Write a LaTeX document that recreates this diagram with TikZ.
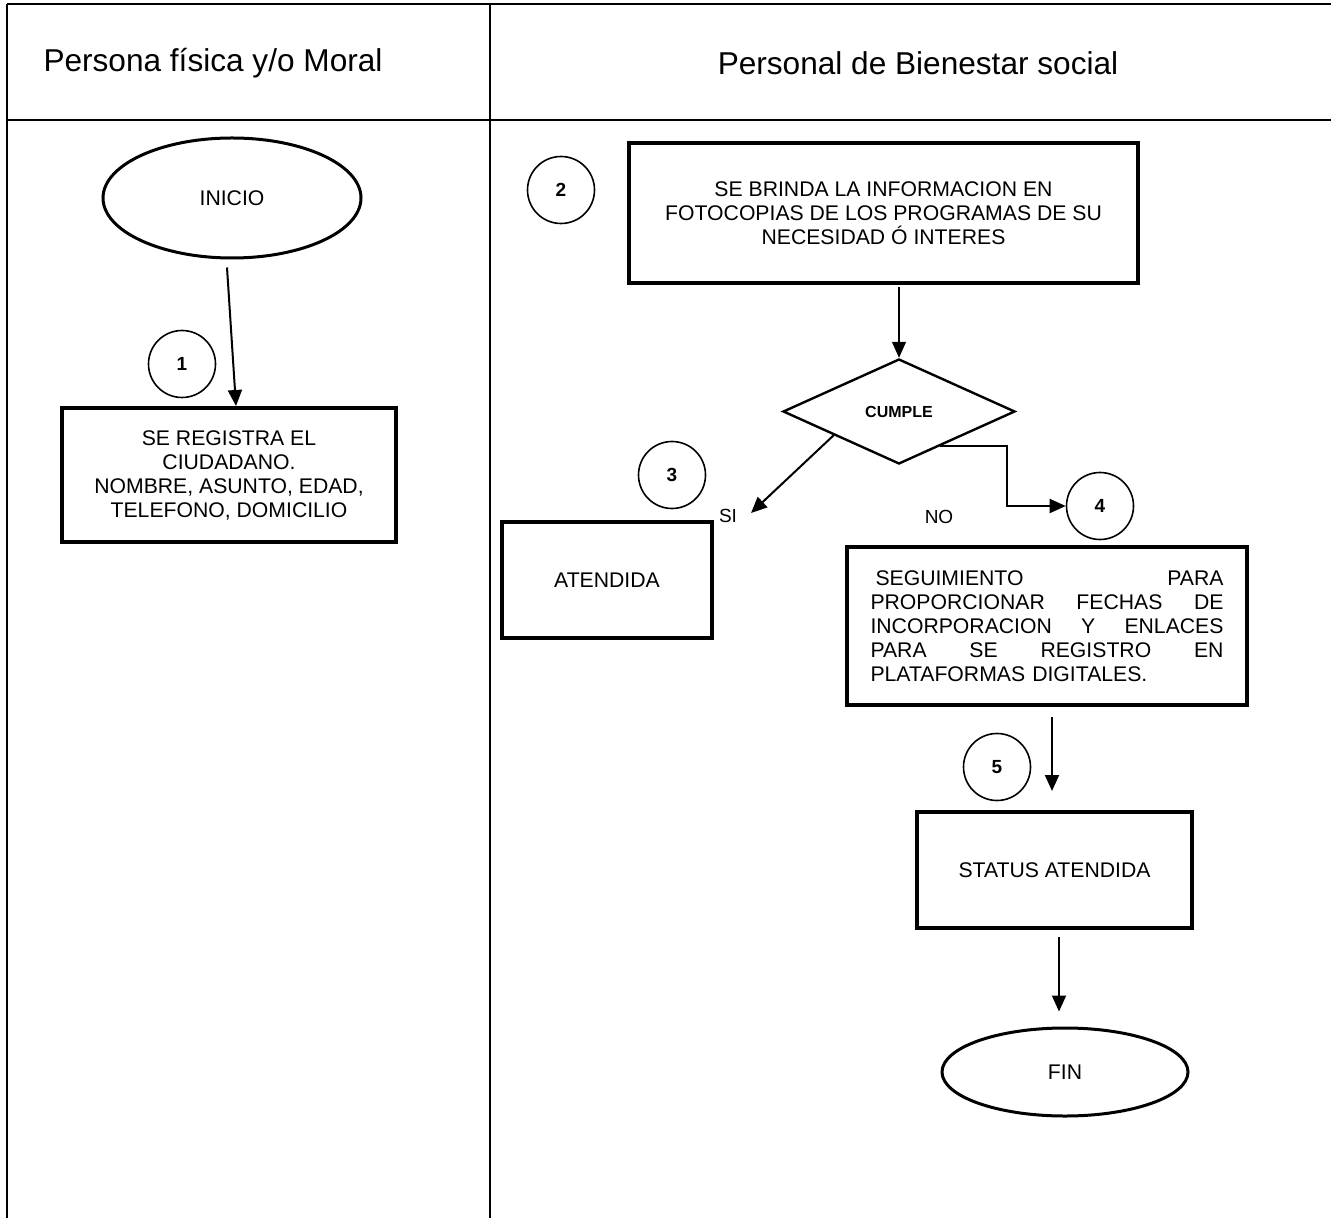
\documentclass[tikz,border=0pt]{standalone}
\usepackage{fontspec}
\setmainfont{Liberation Sans}
\usetikzlibrary{arrows.meta,shapes.geometric}

\begin{document}
\begin{tikzpicture}[x=0.5pt,y=-0.5pt,
	lane/.style={line width=1.2pt},
	proc/.style={rectangle,draw,line width=2pt,inner sep=0pt,align=center,font=\fontsize{10.6}{12}\selectfont},
	term/.style={ellipse,draw,line width=1.5pt,inner sep=0pt,font=\fontsize{10.6}{12}\selectfont},
	num/.style={circle,draw,line width=0.8pt,minimum size=33.5pt,inner sep=0pt,font=\bfseries\fontsize{9.5}{11}\selectfont},
	flow/.style={-{Triangle[length=8pt,width=7pt]},line width=1pt}]
	\useasboundingbox (0,0) rectangle (1331,1218);
	% lanes
	\draw [lane] (7,4) -- (1331,4);
	\draw [lane] (7,120) -- (1331,120);
	\draw [lane] (7,4) -- (7,1218);
	\draw [lane] (490,4) -- (490,1218);
	\node (lane1) at (213,63) [font=\fontsize{15.8}{18}\selectfont] {Persona física y/o Moral};
	\node (lane2) at (918,63) [font=\fontsize{15.8}{18}\selectfont] {Personal de Bienestar social};
	% steps
	\node (inicio) at (232,198) [term,minimum width=129pt,minimum height=60pt] {INICIO};
	\node (c1) at (182,364) [num] {1};
	\node (reg) at (229,475) [proc,minimum width=167pt,minimum height=67pt] {SE REGISTRA EL\\CIUDADANO.\\NOMBRE, ASUNTO, EDAD,\\TELEFONO, DOMICILIO};
	\node (c2) at (561,190) [num] {2};
	\node (info) at (883.5,213) [proc,minimum width=254.5pt,minimum height=70pt] {SE BRINDA LA INFORMACION EN\\FOTOCOPIAS DE LOS PROGRAMAS DE SU\\NECESIDAD Ó INTERES};
	\node (cumple) at (899,411.5) [diamond,draw,line width=1.2pt,inner sep=0pt,minimum width=116pt,minimum height=52.5pt,font=\bfseries\fontsize{8}{9}\selectfont] {CUMPLE};
	\node (c3) at (672,475) [num] {3};
	\node (si) at (728,516) [font=\fontsize{9.5}{11}\selectfont] {SI};
	\coordinate (siend) at (751,513);
	\node (no) at (939,517) [font=\fontsize{9.5}{11}\selectfont] {NO};
	\coordinate (nobend) at (1007,506);
	\node (c4) at (1100,506) [num] {4};
	\node (aten) at (607,580) [proc,minimum width=105pt,minimum height=58pt] {ATENDIDA};
	\node (seg) at (1047,626) [proc,align=left,text width=176.5pt,minimum width=200pt,minimum height=79pt] {\hspace*{2.5pt}SEGUIMIENTO\hfill PARA\\PROPORCIONAR\hfill FECHAS\hfill DE\\INCORPORACION\hfill Y\hfill ENLACES\\PARA\hfill SE\hfill REGISTRO\hfill EN\\PLATAFORMAS DIGITALES.};
	\node (c5) at (997,767) [num] {5};
	\node (status) at (1054.5,870) [proc,minimum width=137.5pt,minimum height=58pt] {STATUS ATENDIDA};
	\node (fin) at (1065,1072) [term,minimum width=123pt,minimum height=44pt] {FIN};
	% connectors
	\draw [flow] ([shift={(-5,8)}]inicio.south) -- ([shift={(7,0)}]reg.north);
	\draw [flow,line width=0.6pt] ([shift={(0,2)}]info.south -| cumple.north) -- (cumple.north);
	\draw [flow] (cumple.200) -- (siend);
	\draw [flow] (cumple.-40) -| (nobend) -- (c4);
	\draw [flow] ([shift={(5,10)}]seg.south) -- ([shift={(-2.5,-19)}]status.north);
	\draw [flow] ([shift={(4.5,7)}]status.south) -- ([shift={(-6,-15)}]fin.north);
\end{tikzpicture}
\end{document}
